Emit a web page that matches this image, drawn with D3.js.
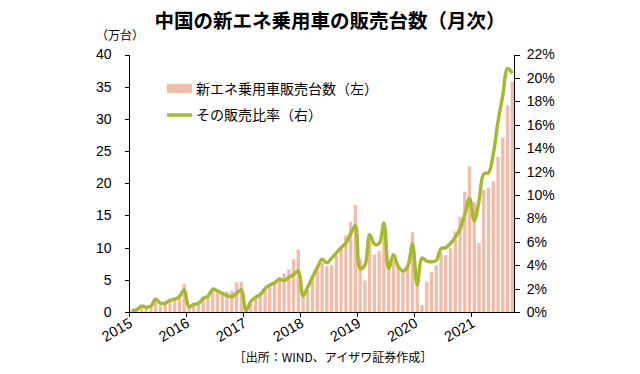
<!DOCTYPE html>
<meta charset="utf-8">
<style>
body { margin: 0; background: #fff; }
text { font-family: "Liberation Sans", Arial, "Noto Sans CJK JP", sans-serif; }
.jp { font-family: "Noto Sans CJK JP", sans-serif; }
.axis path, .axis line { fill: none; stroke: #000; shape-rendering: crispEdges; }
.axis text { fill: #000; font-size: 14px; }
</style>
<body>
<script src="https://d3js.org/d3.v7.min.js"></script>
<script>

var width = 640
var height = 374

// data: monthly, Jan 2015 - Sep 2021
var years = [2015, 2016, 2017, 2018, 2019, 2020, 2021]

// NEV passenger car sales (10k units), left axis
var sales = [
  0.3, 0.4, 0.6, 0.8, 0.7, 1.6, 1.0, 1.3, 1.5, 1.8, 2.7, 4.4,
  1.0, 1.1, 1.5, 1.9, 2.4, 3.4, 3.0, 3.1, 3.2, 3.3, 4.6, 4.7,
  0.5, 1.3, 2.3, 2.9, 3.5, 4.1, 4.5, 5.4, 6.0, 6.6, 8.2, 9.7,
  3.0, 3.4, 5.5, 7.0, 7.6, 7.1, 7.3, 8.8, 10.0, 11.9, 14.0, 16.6,
  8.3, 4.9, 11.0, 8.9, 9.5, 13.2, 6.5, 8.0, 7.1, 6.3, 7.0, 12.4,
  4.2, 1.1, 4.7, 6.2, 7.3, 9.2, 8.85, 9.9, 12.5, 14.8, 18.7, 22.6,
  17.1, 10.7, 19.0, 19.3, 20.3, 24.1, 27.1, 32.1, 35.8
]

// share of total passenger car sales (%), right axis
var share = [
  0.1, 0.2, 0.5, 0.4, 0.5, 1.1, 0.75, 0.75, 1.0, 1.1, 1.3, 1.9,
  0.45, 0.65, 0.75, 1.15, 1.35, 1.95, 1.8, 1.6, 1.4, 1.3, 1.6, 1.9,
  0.1, 0.9, 1.25, 1.5, 2.0, 2.3, 2.5, 2.8, 2.7, 2.95, 3.2, 3.5,
  1.36, 2.15, 3.0, 3.8, 4.5, 4.2, 4.6, 5.05, 5.5, 5.9, 6.7, 7.4,
  3.7, 4.0, 6.6, 5.8, 5.85, 7.6, 3.7, 4.9, 3.9, 3.5, 3.9, 5.8,
  2.3, 4.6, 4.35, 4.3, 4.4, 5.4, 5.5, 5.85, 6.4, 7.1, 8.3, 9.7,
  7.8, 9.5, 11.8, 11.9, 13.5, 16.3, 18.5, 20.8, 20.4
]

var leftTicks = [0, 5, 10, 15, 20, 25, 30, 35, 40]
var rightTicks = [0, 2, 4, 6, 8, 10, 12, 14, 16, 18, 20, 22]

var months = []
years.forEach(function(y) {
  for (var m = 1; m <= 12; m++) months.push(y + "-" + m)
})
months = months.slice(0, sales.length)

var margin = {top: 54.5, right: 125.3, bottom: 62, left: 129.5}

var svg = d3.select("body").append("svg")
    .attr("width", width)
    .attr("height", height)

var x = d3.scaleBand()
    .domain(months)
    .range([margin.left, width - margin.right])
    .paddingInner(0.3)
    .paddingOuter(0.15)

var xStep = x.step()
function monthStart(i) { return x.range()[0] + i * xStep }

var yL = d3.scaleLinear()
    .domain([0, 40])
    .range([height - margin.bottom, margin.top])

var yR = d3.scaleLinear()
    .domain([0, 22])
    .range([height - margin.bottom, margin.top])

// bars
svg.append("g")
  .selectAll("rect")
  .data(sales)
  .join("rect")
    .attr("x", function(d, i) { return monthStart(i) + xStep * 0.15 })
    .attr("y", function(d) { return yL(d) })
    .attr("width", xStep * 0.7)
    .attr("height", function(d) { return yL(0) - yL(d) })
    .attr("fill", "#f2bca9")

// share line
var line = d3.line()
    .x(function(d, i) { return monthStart(i) + xStep / 2 })
    .y(function(d) { return yR(d) })
    .curve(d3.curveCatmullRom.alpha(0.5))

svg.append("path")
    .datum(share)
    .attr("d", line)
    .attr("fill", "none")
    .attr("stroke", "#a7b92c")
    .attr("stroke-width", 3.5)
    .attr("stroke-linejoin", "round")

// left axis
var la = svg.append("g")
    .attr("class", "axis")
    .attr("transform", "translate(" + margin.left + ",0)")
    .call(d3.axisLeft(yL).tickValues(leftTicks).tickSize(5).tickPadding(13))
la.select(".domain").attr("d", "M0," + yL(0) + "V" + yL(40))

// right axis
var ra = svg.append("g")
    .attr("class", "axis")
    .attr("transform", "translate(" + (width - margin.right) + ",0)")
    .call(d3.axisRight(yR).tickValues(rightTicks).tickSize(5).tickPadding(7)
      .tickFormat(function(d) { return d + "%" }))
ra.select(".domain").attr("d", "M0," + yR(0) + "V" + yR(22))

// bottom axis
var ba = svg.append("g")
    .attr("class", "axis")
    .attr("transform", "translate(0," + yL(0) + ")")
ba.append("line")
    .attr("x1", margin.left).attr("x2", width - margin.right)
    .attr("stroke", "#000")
years.forEach(function(y, k) {
  var tx = monthStart(k * 12)
  ba.append("line")
      .attr("x1", tx).attr("x2", tx)
      .attr("y1", 0).attr("y2", 5)
      .attr("stroke", "#000")
  ba.append("text")
      .attr("transform", "translate(" + (tx + 4) + ",14) rotate(-30)")
      .attr("text-anchor", "end")
      .style("font-size", "14.5px")
      .text(y)
})

// titles
svg.append("text")
    .attr("class", "jp")
    .attr("x", 330)
    .attr("y", 28)
    .attr("text-anchor", "middle")
    .attr("font-size", 19.5)
    .attr("font-weight", "bold")
    .text("中国の新エネ乗用車の販売台数（月次）")

svg.append("text")
    .attr("class", "jp")
    .attr("x", 96)
    .attr("y", 40)
    .attr("font-size", 12)
    .text("（万台）")

svg.append("text")
    .attr("class", "jp")
    .attr("x", 333)
    .attr("y", 362)
    .attr("text-anchor", "middle")
    .attr("font-size", 12)
    .text("［出所：WIND、アイザワ証券作成］")

// legend
var lg = svg.append("g").attr("transform", "translate(167,0)")
lg.append("rect")
    .attr("x", 0).attr("y", 84)
    .attr("width", 25).attr("height", 9)
    .attr("fill", "#f2bca9")
lg.append("text")
    .attr("class", "jp")
    .attr("x", 29).attr("y", 93.5)
    .attr("font-size", 14)
    .text("新エネ乗用車販売台数（左）")
lg.append("line")
    .attr("x1", 0).attr("x2", 25)
    .attr("y1", 115).attr("y2", 115)
    .attr("stroke", "#a7b92c")
    .attr("stroke-width", 3.5)
lg.append("text")
    .attr("class", "jp")
    .attr("x", 29).attr("y", 120)
    .attr("font-size", 14)
    .text("その販売比率（右）")

</script>
